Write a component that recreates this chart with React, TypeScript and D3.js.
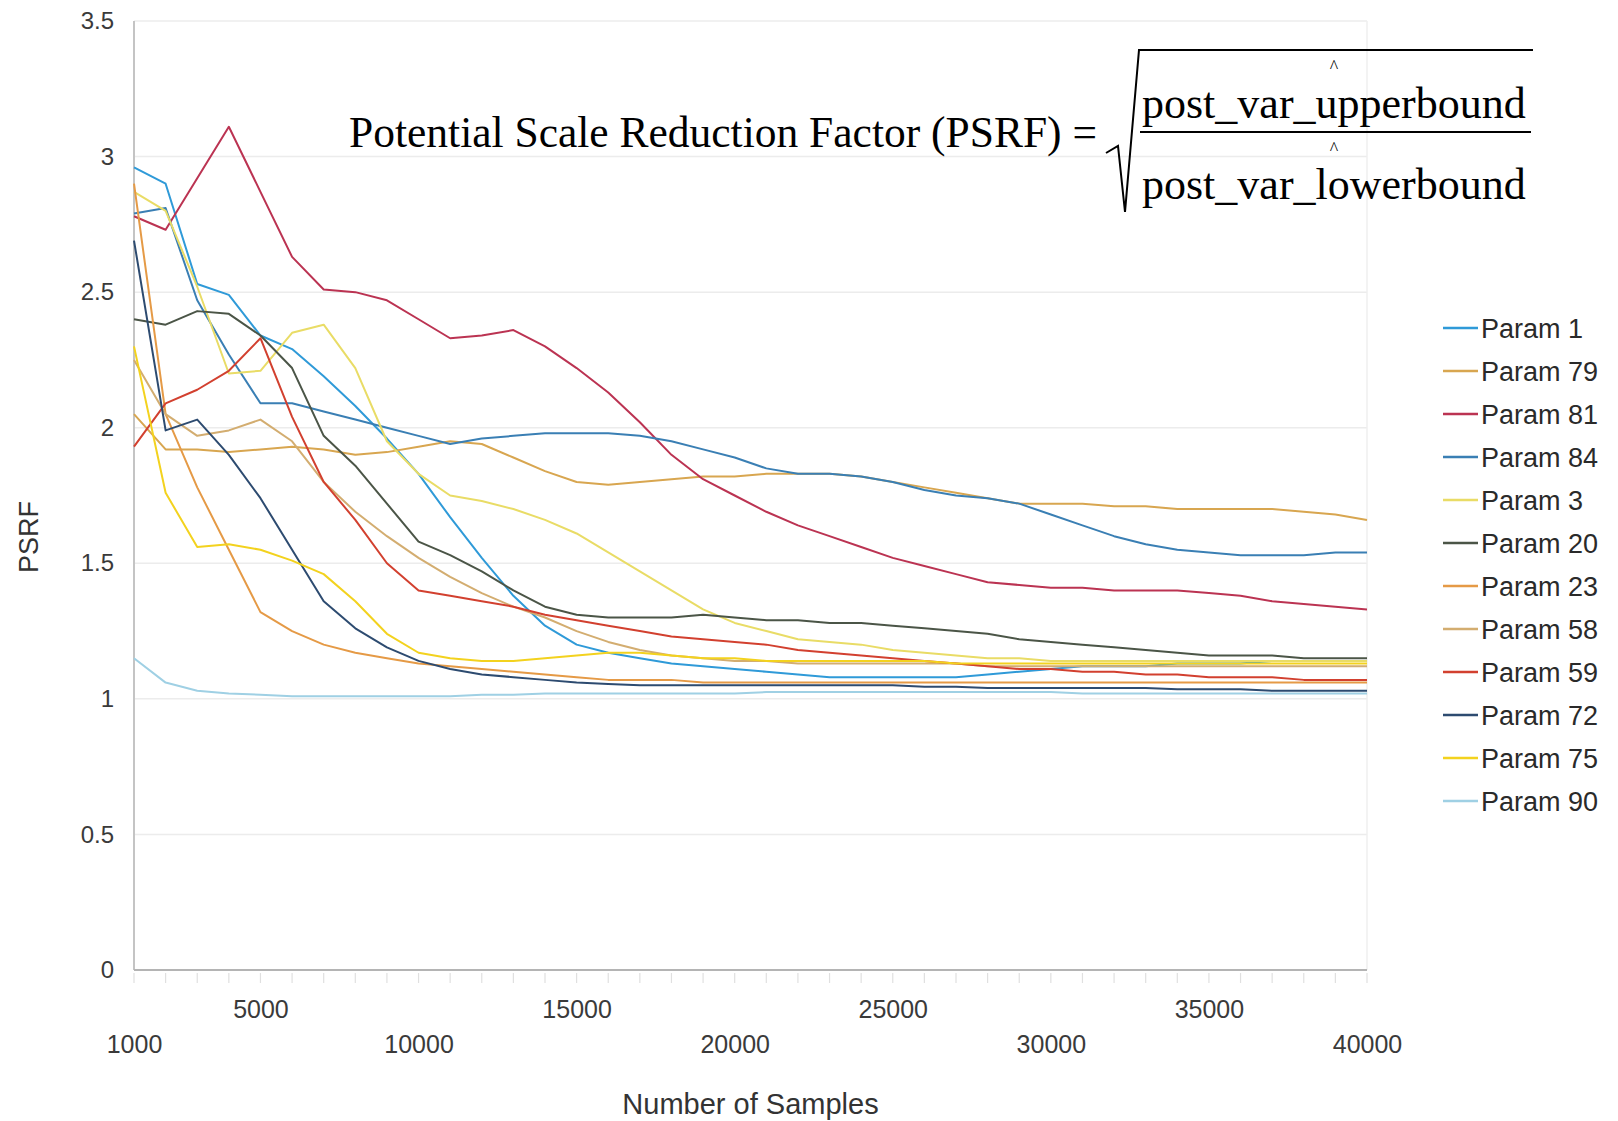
import { useEffect, useRef } from "react";
import * as d3 from "d3";

// number of samples (x categories)
const samples = [
  1000, 2000, 3000, 4000, 5000, 6000, 7000, 8000, 9000, 10000,
  11000, 12000, 13000, 14000, 15000, 16000, 17000, 18000, 19000, 20000,
  21000, 22000, 23000, 24000, 25000, 26000, 27000, 28000, 29000, 30000,
  31000, 32000, 33000, 34000, 35000, 36000, 37000, 38000, 39000, 40000,
];

const yTicks = [0, 0.5, 1, 1.5, 2, 2.5, 3, 3.5];
const xTicksUpper = [5000, 15000, 25000, 35000];
const xTicksLower = [1000, 10000, 20000, 30000, 40000];

// PSRF values per parameter
const param1 = [2.96, 2.9, 2.53, 2.49, 2.34, 2.29, 2.19, 2.08, 1.96, 1.83, 1.67, 1.52, 1.38, 1.27, 1.2, 1.17, 1.15, 1.13, 1.12, 1.11, 1.1, 1.09, 1.08, 1.08, 1.08, 1.08, 1.08, 1.09, 1.1, 1.11, 1.12, 1.12, 1.12, 1.13, 1.13, 1.13, 1.14, 1.14, 1.14, 1.14];
const param79 = [2.05, 1.92, 1.92, 1.91, 1.92, 1.93, 1.92, 1.9, 1.91, 1.93, 1.95, 1.94, 1.89, 1.84, 1.8, 1.79, 1.8, 1.81, 1.82, 1.82, 1.83, 1.83, 1.83, 1.82, 1.8, 1.78, 1.76, 1.74, 1.72, 1.72, 1.72, 1.71, 1.71, 1.7, 1.7, 1.7, 1.7, 1.69, 1.68, 1.66];
const param81 = [2.78, 2.73, 2.92, 3.11, 2.87, 2.63, 2.51, 2.5, 2.47, 2.4, 2.33, 2.34, 2.36, 2.3, 2.22, 2.13, 2.02, 1.9, 1.81, 1.75, 1.69, 1.64, 1.6, 1.56, 1.52, 1.49, 1.46, 1.43, 1.42, 1.41, 1.41, 1.4, 1.4, 1.4, 1.39, 1.38, 1.36, 1.35, 1.34, 1.33];
const param84 = [2.79, 2.81, 2.47, 2.27, 2.09, 2.09, 2.06, 2.03, 2.0, 1.97, 1.94, 1.96, 1.97, 1.98, 1.98, 1.98, 1.97, 1.95, 1.92, 1.89, 1.85, 1.83, 1.83, 1.82, 1.8, 1.77, 1.75, 1.74, 1.72, 1.68, 1.64, 1.6, 1.57, 1.55, 1.54, 1.53, 1.53, 1.53, 1.54, 1.54];
const param3 = [2.87, 2.8, 2.52, 2.2, 2.21, 2.35, 2.38, 2.22, 1.95, 1.83, 1.75, 1.73, 1.7, 1.66, 1.61, 1.54, 1.47, 1.4, 1.33, 1.28, 1.25, 1.22, 1.21, 1.2, 1.18, 1.17, 1.16, 1.15, 1.15, 1.14, 1.14, 1.14, 1.14, 1.14, 1.14, 1.14, 1.14, 1.14, 1.14, 1.14];
const param20 = [2.4, 2.38, 2.43, 2.42, 2.34, 2.22, 1.97, 1.86, 1.72, 1.58, 1.53, 1.47, 1.4, 1.34, 1.31, 1.3, 1.3, 1.3, 1.31, 1.3, 1.29, 1.29, 1.28, 1.28, 1.27, 1.26, 1.25, 1.24, 1.22, 1.21, 1.2, 1.19, 1.18, 1.17, 1.16, 1.16, 1.16, 1.15, 1.15, 1.15];
const param23 = [2.9, 2.05, 1.78, 1.55, 1.32, 1.25, 1.2, 1.17, 1.15, 1.13, 1.12, 1.11, 1.1, 1.09, 1.08, 1.07, 1.07, 1.07, 1.06, 1.06, 1.06, 1.06, 1.06, 1.06, 1.06, 1.06, 1.06, 1.06, 1.06, 1.06, 1.06, 1.06, 1.06, 1.06, 1.06, 1.06, 1.06, 1.06, 1.06, 1.06];
const param58 = [2.25, 2.05, 1.97, 1.99, 2.03, 1.95, 1.8, 1.69, 1.6, 1.52, 1.45, 1.39, 1.34, 1.3, 1.25, 1.21, 1.18, 1.16, 1.15, 1.14, 1.14, 1.13, 1.13, 1.13, 1.13, 1.13, 1.13, 1.12, 1.12, 1.12, 1.12, 1.12, 1.12, 1.12, 1.12, 1.12, 1.12, 1.12, 1.12, 1.12];
const param59 = [1.93, 2.09, 2.14, 2.21, 2.33, 2.04, 1.8, 1.66, 1.5, 1.4, 1.38, 1.36, 1.34, 1.31, 1.29, 1.27, 1.25, 1.23, 1.22, 1.21, 1.2, 1.18, 1.17, 1.16, 1.15, 1.14, 1.13, 1.12, 1.11, 1.11, 1.1, 1.1, 1.09, 1.09, 1.08, 1.08, 1.08, 1.07, 1.07, 1.07];
const param72 = [2.69, 1.99, 2.03, 1.9, 1.74, 1.55, 1.36, 1.26, 1.19, 1.14, 1.11, 1.09, 1.08, 1.07, 1.06, 1.055, 1.05, 1.05, 1.05, 1.05, 1.05, 1.05, 1.05, 1.05, 1.05, 1.045, 1.045, 1.04, 1.04, 1.04, 1.04, 1.04, 1.04, 1.035, 1.035, 1.035, 1.03, 1.03, 1.03, 1.03];
const param75 = [2.3, 1.76, 1.56, 1.57, 1.55, 1.51, 1.46, 1.36, 1.24, 1.17, 1.15, 1.14, 1.14, 1.15, 1.16, 1.17, 1.17, 1.16, 1.15, 1.15, 1.14, 1.14, 1.14, 1.14, 1.14, 1.14, 1.13, 1.13, 1.13, 1.13, 1.13, 1.13, 1.13, 1.13, 1.13, 1.13, 1.13, 1.13, 1.13, 1.13];
const param90 = [1.15, 1.06, 1.03, 1.02, 1.015, 1.01, 1.01, 1.01, 1.01, 1.01, 1.01, 1.015, 1.015, 1.02, 1.02, 1.02, 1.02, 1.02, 1.02, 1.02, 1.025, 1.025, 1.025, 1.025, 1.025, 1.025, 1.025, 1.025, 1.025, 1.025, 1.02, 1.02, 1.02, 1.02, 1.02, 1.02, 1.02, 1.02, 1.02, 1.02];

const seriesNames = ["Param 1", "Param 79", "Param 81", "Param 84", "Param 3", "Param 20", "Param 23", "Param 58", "Param 59", "Param 72", "Param 75", "Param 90"];
const seriesValues = [param1, param79, param81, param84, param3, param20, param23, param58, param59, param72, param75, param90];
const seriesColors = ["#2f9ad8", "#d8a650", "#bb3352", "#3a7fb4", "#e9dc66", "#4b5547", "#e59a46", "#d3ad70", "#d2402f", "#2d4b70", "#f3d21e", "#9fd0e4"];

const W = 1618;
const H = 1121;
const sans = "'Liberation Sans', Arial, sans-serif";
const serif = "'Liberation Serif', 'Times New Roman', serif";

export default function App() {
  const ref = useRef<SVGSVGElement>(null);

  useEffect(() => {
    const svg = d3.select(ref.current);
    svg.selectAll("*").remove();

    const plot = { left: 134, right: 1367, top: 21, bottom: 970 };
    const x = d3.scaleLinear().domain([1000, 40000]).range([plot.left, plot.right]);
    const y = d3.scaleLinear().domain([0, 3.5]).range([plot.bottom, plot.top]);

    svg.append("rect").attr("width", W).attr("height", H).attr("fill", "#fff");

    // gridlines
    svg.append("g")
      .selectAll("line")
      .data(yTicks.filter(d => d > 0))
      .enter()
      .append("line")
      .attr("x1", plot.left)
      .attr("x2", plot.right)
      .attr("y1", d => y(d))
      .attr("y2", d => y(d))
      .attr("stroke", "#ececec")
      .attr("stroke-width", 1.5);

    // right border
    svg.append("line")
      .attr("x1", plot.right).attr("x2", plot.right)
      .attr("y1", plot.top).attr("y2", plot.bottom)
      .attr("stroke", "#efefef").attr("stroke-width", 1.5);

    // left axis line
    svg.append("line")
      .attr("x1", plot.left).attr("x2", plot.left)
      .attr("y1", plot.top).attr("y2", plot.bottom)
      .attr("stroke", "#c4c4c4").attr("stroke-width", 2);

    // small category ticks under the x axis
    svg.append("g")
      .selectAll("line")
      .data(samples)
      .enter()
      .append("line")
      .attr("x1", d => x(d)).attr("x2", d => x(d))
      .attr("y1", plot.bottom + 3).attr("y2", plot.bottom + 13)
      .attr("stroke", "#e0e0e0").attr("stroke-width", 1.2);

    // x axis line
    svg.append("line")
      .attr("x1", plot.left).attr("x2", plot.right)
      .attr("y1", plot.bottom).attr("y2", plot.bottom)
      .attr("stroke", "#b4b4b4").attr("stroke-width", 2);

    // y axis labels
    const yAxis = svg.append("g")
      .attr("transform", `translate(${plot.left},0)`)
      .call(d3.axisLeft(y).tickValues(yTicks).tickSize(0).tickPadding(20).tickFormat(d3.format("")));
    yAxis.select(".domain").remove();
    yAxis.selectAll("text").attr("font-family", sans).attr("font-size", 24).attr("fill", "#3a3a3a");

    // x axis labels, two staggered rows
    const xUpper = svg.append("g")
      .attr("transform", `translate(0,${plot.bottom})`)
      .call(d3.axisBottom(x).tickValues(xTicksUpper).tickSize(0).tickPadding(30).tickFormat(d3.format("")));
    const xLower = svg.append("g")
      .attr("transform", `translate(0,${plot.bottom})`)
      .call(d3.axisBottom(x).tickValues(xTicksLower).tickSize(0).tickPadding(65).tickFormat(d3.format("")));
    [xUpper, xLower].forEach(g => {
      g.select(".domain").remove();
      g.selectAll("text").attr("font-family", sans).attr("font-size", 25).attr("fill", "#3a3a3a");
    });

    // axis titles
    svg.append("text")
      .attr("x", (plot.left + plot.right) / 2)
      .attr("y", 1114)
      .attr("text-anchor", "middle")
      .attr("font-family", sans)
      .attr("font-size", 29)
      .attr("fill", "#333")
      .text("Number of Samples");

    svg.append("text")
      .attr("transform", "translate(38,537) rotate(-90)")
      .attr("text-anchor", "middle")
      .attr("font-family", sans)
      .attr("font-size", 27)
      .attr("fill", "#333")
      .text("PSRF");

    // lines
    const line = d3.line<number>()
      .x((d, i) => x(samples[i]))
      .y(d => y(d));

    svg.append("g")
      .selectAll("path")
      .data(seriesValues)
      .enter()
      .append("path")
      .attr("d", d => line(d))
      .attr("fill", "none")
      .attr("stroke", (d, i) => seriesColors[i])
      .attr("stroke-width", 2)
      .attr("stroke-linejoin", "round");

    // legend
    const legend = svg.append("g")
      .selectAll("g")
      .data(seriesNames)
      .enter()
      .append("g")
      .attr("transform", (d, i) => `translate(1443,${328 + i * 43})`);
    legend.append("line")
      .attr("x1", 0).attr("x2", 35)
      .attr("stroke", (d, i) => seriesColors[i])
      .attr("stroke-width", 2.5);
    legend.append("text")
      .attr("x", 38)
      .attr("dy", "0.36em")
      .attr("font-family", sans)
      .attr("font-size", 27)
      .attr("fill", "#2a2a2a")
      .text(d => d);

    // formula
    const f = svg.append("g").attr("font-family", serif).attr("fill", "#000");
    f.append("text")
      .attr("x", 349).attr("y", 147)
      .attr("font-size", 44)
      .attr("textLength", 748)
      .attr("lengthAdjust", "spacingAndGlyphs")
      .text("Potential Scale Reduction Factor (PSRF) =");
    f.append("text")
      .attr("x", 1142).attr("y", 118)
      .attr("font-size", 44)
      .text("post_var_upperbound");
    f.append("text")
      .attr("x", 1142).attr("y", 199)
      .attr("font-size", 44)
      .text("post_var_lowerbound");
    f.append("text")
      .attr("x", 1334).attr("y", 73)
      .attr("text-anchor", "middle")
      .attr("font-size", 18)
      .text("^");
    f.append("text")
      .attr("x", 1334).attr("y", 155)
      .attr("text-anchor", "middle")
      .attr("font-size", 18)
      .text("^");
    f.append("line")
      .attr("x1", 1140).attr("x2", 1531)
      .attr("y1", 132).attr("y2", 132)
      .attr("stroke", "#000").attr("stroke-width", 2);
    f.append("path")
      .attr("d", "M1106,153 L1118,146 L1125,212 L1139,50 L1533,50")
      .attr("fill", "none")
      .attr("stroke", "#000")
      .attr("stroke-width", 2);
  }, []);

  return (
    <div style={{ position: "absolute", left: 0, top: 0 }}>
      <svg ref={ref} width={W} height={H} style={{ display: "block" }} />
    </div>
  );
}
